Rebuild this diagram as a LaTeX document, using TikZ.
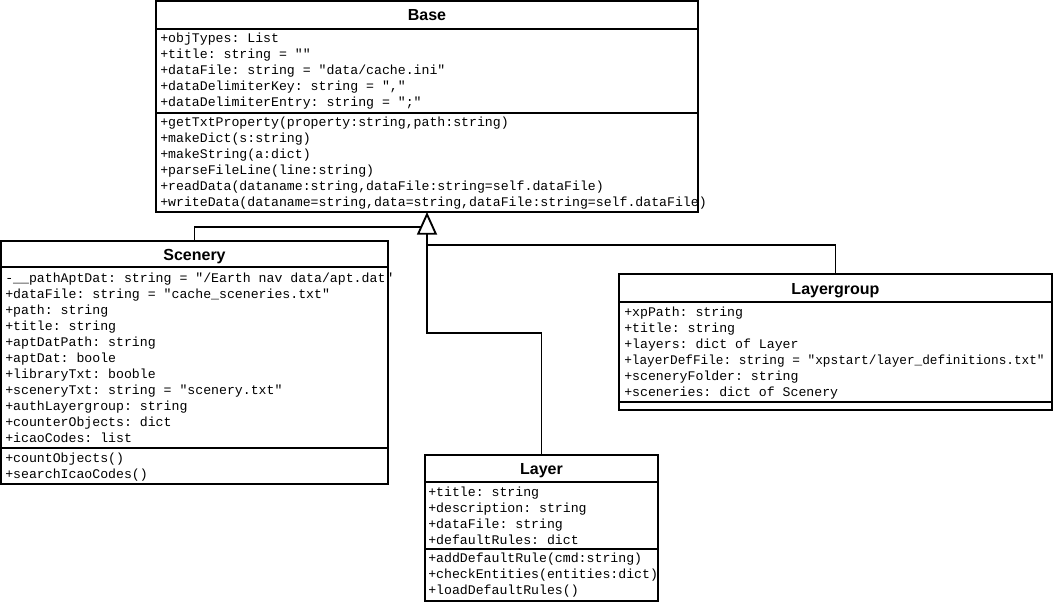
\documentclass[tikz,border=0pt]{standalone}
\usepackage{fontspec}
\setmainfont{Liberation Sans}
\setmonofont{Liberation Mono}
\usetikzlibrary{arrows.meta}
\tikzset{
  box/.style={draw, line width=1.4pt, anchor=north west, inner sep=0pt, outer sep=0pt, rectangle},
  sep/.style={line width=1.4pt},
  conn/.style={line width=1.4pt},
  ctitle/.style={anchor=base, inner sep=0pt, font=\bfseries\fontsize{12}{14}\selectfont},
  txt/.style={anchor=base west, inner sep=0pt, font=\ttfamily\fontsize{9.9}{12}\selectfont},
  genarrow/.style={-{Triangle[open, length=17pt, width=15pt, fill=white]}}
}
\begin{document}
\begin{tikzpicture}[x=0.75pt, y=-0.75pt]
\useasboundingbox (0,0) rectangle (1054,603);

% ---------- Base ----------
\node[box, minimum width=406.5pt, minimum height=158.25pt] (base) at (156,1) {};
\draw[sep] (156,29) -- (698,29);
\draw[sep] (156,113) -- (698,113);
\node[ctitle] (baseT) at (427,21) {Base};
\node[txt] (b1) at (160,42) {+objTypes: List};
\node[txt] (b2) at (160,58) {+title: string = ""};
\node[txt] (b3) at (160,74) {+dataFile: string = "data/cache.ini"};
\node[txt] (b4) at (160,90) {+dataDelimiterKey: string = ","};
\node[txt] (b5) at (160,106) {+dataDelimiterEntry: string = ";"};
\node[txt] (b6) at (160,126) {+getTxtProperty(property:string,path:string)};
\node[txt] (b7) at (160,142) {+makeDict(s:string)};
\node[txt] (b8) at (160,158) {+makeString(a:dict)};
\node[txt] (b9) at (160,174) {+parseFileLine(line:string)};
\node[txt] (b10) at (160,190) {+readData(dataname:string,dataFile:string=self.dataFile)};
\node[txt] (b11) at (160,206) {+writeData(dataname=string,data=string,dataFile:string=self.dataFile)};

% ---------- Scenery ----------
\node[box, minimum width=290.25pt, minimum height=182.25pt] (scenery) at (1,241) {};
\draw[sep] (1,267) -- (388,267);
\draw[sep] (1,448) -- (388,448);
\node[ctitle] (sceneryT) at (194.5,260) {Scenery};
\node[txt] (s1) at (5,282) {-\_\_pathAptDat: string = "/Earth nav data/apt.dat"};
\node[txt] (s2) at (5,298) {+dataFile: string = "cache\_sceneries.txt"};
\node[txt] (s3) at (5,314) {+path: string};
\node[txt] (s4) at (5,330) {+title: string};
\node[txt] (s5) at (5,346) {+aptDatPath: string};
\node[txt] (s6) at (5,362) {+aptDat: boole};
\node[txt] (s7) at (5,378) {+libraryTxt: booble};
\node[txt] (s8) at (5,394) {+sceneryTxt: string = "scenery.txt"};
\node[txt] (s9) at (5,410) {+authLayergroup: string};
\node[txt] (s10) at (5,426) {+counterObjects: dict};
\node[txt] (s11) at (5,442) {+icaoCodes: list};
\node[txt] (s12) at (5,462) {+countObjects()};
\node[txt] (s13) at (5,478) {+searchIcaoCodes()};

% ---------- Layergroup ----------
\node[box, minimum width=324.75pt, minimum height=102pt] (layergroup) at (619,274) {};
\draw[sep] (619,302) -- (1052,302);
\draw[sep] (619,402) -- (1052,402);
\node[ctitle] (layergroupT) at (835.5,294) {Layergroup};
\node[txt] (g1) at (624,316) {+xpPath: string};
\node[txt] (g2) at (624,332) {+title: string};
\node[txt] (g3) at (624,348) {+layers: dict of Layer};
\node[txt, xscale=0.965] (g4) at (624,364) {+layerDefFile: string = "xpstart/layer\_definitions.txt"};
\node[txt] (g5) at (624,380) {+sceneryFolder: string};
\node[txt] (g6) at (624,396) {+sceneries: dict of Scenery};

% ---------- Layer ----------
\node[box, minimum width=174.75pt, minimum height=109.5pt] (layer) at (425,455) {};
\draw[sep] (425,482) -- (658,482);
\draw[sep] (425,549) -- (658,549);
\node[ctitle] (layerT) at (541.5,474) {Layer};
\node[txt] (l1) at (428,496) {+title: string};
\node[txt] (l2) at (428,512) {+description: string};
\node[txt] (l3) at (428,528) {+dataFile: string};
\node[txt] (l4) at (428,544) {+defaultRules: dict};
\node[txt] (l5) at (428,562) {+addDefaultRule(cmd:string)};
\node[txt] (l6) at (428,578) {+checkEntities(entities:dict)};
\node[txt] (l7) at (428,594) {+loadDefaultRules()};

% ---------- Connectors ----------
\coordinate (jS) at (base.south |- 0,227);
\coordinate (jG) at (base.south |- 0,245);
\coordinate (jL) at (base.south |- 0,333);
\draw[conn] (scenery.north) |- (jS);
\draw[conn] (layergroup.north) |- (jG);
\draw[conn, genarrow] (layer.north) |- (jL) -- (base.south);
\end{tikzpicture}
\end{document}
